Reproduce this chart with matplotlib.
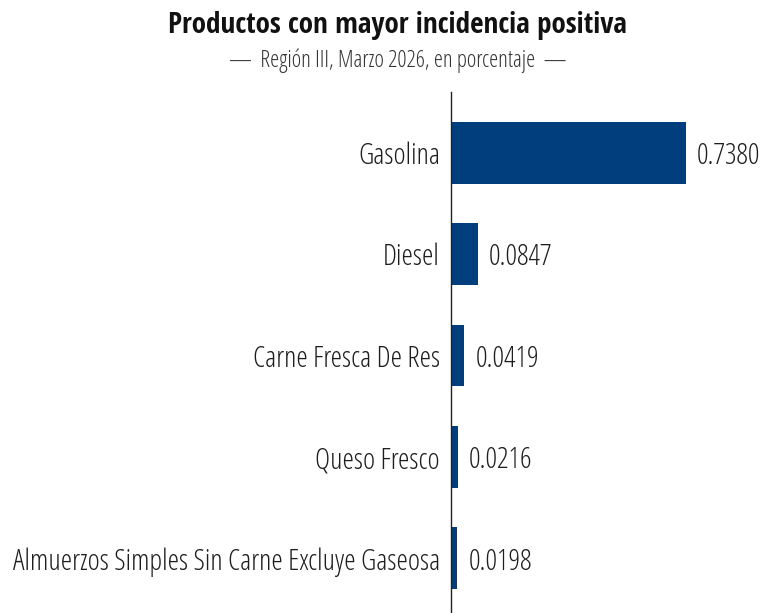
import matplotlib
matplotlib.use("Agg")
import matplotlib.pyplot as plt
from matplotlib import font_manager

# data
productos = ['Gasolina', 'Diesel', 'Carne Fresca De Res', 'Queso Fresco',
             'Almuerzos Simples Sin Carne Excluye Gaseosa']
incidencia = [0.7380, 0.0847, 0.0419, 0.0216, 0.0198]

titulo = 'Productos con mayor incidencia positiva'
subtitulo = '—  Región III, Marzo 2026, en porcentaje  —'

# find condensed Open Sans faces (light for text, bold for title)
caras = [f for f in font_manager.fontManager.ttflist
         if 'Open Sans' in f.name and ('Condensed' in f.name or 'ondensed' in str(f.stretch))]


def peso(f):
    w = f.weight
    if isinstance(w, str):
        w = {'light': 300, 'normal': 400, 'regular': 400, 'medium': 500,
             'semibold': 600, 'bold': 700}.get(w, 400)
    return w


if caras:
    ligera = min(caras, key=peso)
    negrita = min(caras, key=lambda f: abs(peso(f) - 700))
    fp_txt = font_manager.FontProperties(fname=ligera.fname)
    fp_tit = font_manager.FontProperties(fname=negrita.fname)
else:
    fp_txt = font_manager.FontProperties(family='Liberation Sans Narrow')
    fp_tit = font_manager.FontProperties(family='Liberation Sans Narrow', weight='bold')

color_barra = '#003e7e'
color_txt = '#1e1e1e'

fig = plt.figure(figsize=(7.74, 6.13), dpi=100)
ax = fig.add_axes([451 / 774, 0, 1 - 451 / 774, 1 - 92 / 613])

pos = list(range(len(productos)))
ax.barh(pos, incidencia, height=0.61, color=color_barra)

ax.set_ylim(4.54, -0.6)
ax.set_xlim(0, 1.015)

for y, v in zip(pos, incidencia):
    ax.text(v + 0.035, y, f'{v:.4f}', va='center_baseline', ha='left',
            fontproperties=fp_txt, fontsize=20.8, color=color_txt)

ax.set_yticks(pos)
ax.set_yticklabels(productos, fontproperties=fp_txt, fontsize=20.8, color=color_txt)
ax.tick_params(axis='y', length=0, pad=8)
ax.set_xticks([])

for s in ['top', 'right', 'bottom']:
    ax.spines[s].set_visible(False)
ax.spines['left'].set_color('#222222')
ax.spines['left'].set_linewidth(1)

fig.text(398 / 774, 1 - 26 / 613, titulo, ha='center', va='center',
         fontproperties=fp_tit, fontsize=21, color='#111111')
fig.text(398 / 774, 1 - 61 / 613, subtitulo, ha='center', va='center',
         fontproperties=fp_txt, fontsize=16.5, color='#333333')

fig.savefig('out.png', dpi=100)
